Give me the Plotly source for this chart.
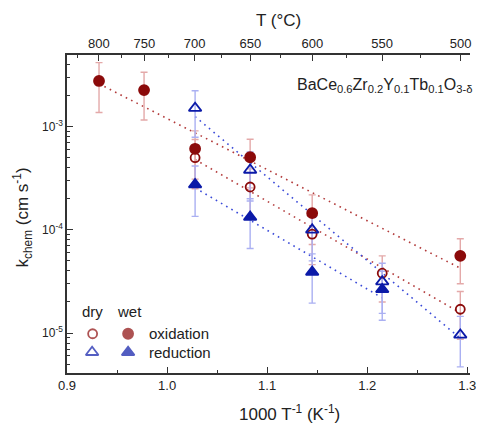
import plotly.graph_objects as go

# ---------------- data ----------------
wet_ox_x = [0.932, 0.977, 1.028, 1.083, 1.145, 1.293]
wet_ox_y = [2.77e-3, 2.26e-3, 6.1e-4, 5.05e-4, 1.45e-4, 5.6e-5]
wet_ox_e = [1.4e-3, 1.1e-3, 3.0e-4, 2.5e-4, 7.3e-5, 2.6e-5]

dry_ox_x = [1.028, 1.083, 1.145, 1.215, 1.293]
dry_ox_y = [5.0e-4, 2.6e-4, 9.1e-5, 3.8e-5, 1.7e-5]
dry_ox_e = [2.5e-4, 1.3e-4, 4.5e-5, 1.8e-5, 8.3e-6]

dry_red_x = [1.028, 1.083, 1.145, 1.215, 1.293]
dry_red_y = [1.51e-3, 3.8e-4, 1.0e-4, 3.15e-5, 9.6e-6]
dry_red_e = [7.2e-4, 1.9e-4, 5.0e-5, 1.6e-5, 4.9e-6]

wet_red_x = [1.028, 1.083, 1.145, 1.215]
wet_red_y = [2.75e-4, 1.33e-4, 3.9e-5, 2.65e-5]
wet_red_e = [1.4e-4, 6.7e-5, 1.95e-5, 1.32e-5]

# Arrhenius fit lines (end points)
fit_wet_ox_x = [0.932, 1.293]
fit_wet_ox_y = [2.6e-3, 4.25e-5]
fit_dry_ox_x = [1.028, 1.293]
fit_dry_ox_y = [4.8e-4, 1.57e-5]
fit_dry_red_x = [1.028, 1.293]
fit_dry_red_y = [1.25e-3, 8.9e-6]
fit_wet_red_x = [1.028, 1.215]
fit_wet_red_y = [2.55e-4, 2.19e-5]

bottom_ticks = [0.9, 1.0, 1.1, 1.2, 1.3]
bottom_minor = [0.95, 1.05, 1.15, 1.25]
top_T_major = [800, 750, 700, 650, 600, 550, 500]
top_T_minor = [825, 775, 725, 675, 625, 575, 525]
y_major = [1e-5, 1e-4, 1e-3]
y_major_text = ["10<sup>-5</sup>", "10<sup>-4</sup>", "10<sup>-3</sup>"]

# ---------------- styles ----------------
RED = "#8b0a0a"
BLUE = "#0b1aa8"
RED_ERR = "#e4a9a9"
BLUE_ERR = "#aab0f2"
RED_LINE = "#b23a3a"
BLUE_LINE = "#3a4ad8"
FONT = "Liberation Sans, Arial, sans-serif"
AX = "#333333"

fig = go.Figure()

# fit lines
for fx, fy, c in [(fit_wet_ox_x, fit_wet_ox_y, RED_LINE),
                  (fit_dry_ox_x, fit_dry_ox_y, RED_LINE),
                  (fit_dry_red_x, fit_dry_red_y, BLUE_LINE),
                  (fit_wet_red_x, fit_wet_red_y, BLUE_LINE)]:
    fig.add_trace(go.Scatter(x=fx, y=fy, mode="lines",
                             line=dict(color=c, width=1.6, dash="1.6px,4.4px"),
                             showlegend=False, hoverinfo="skip"))

series = [
    (wet_ox_x, wet_ox_y, wet_ox_e, "circle", 10, RED, RED_ERR),
    (dry_ox_x, dry_ox_y, dry_ox_e, "circle-open", 9, RED, RED_ERR),
    (dry_red_x, dry_red_y, dry_red_e, "triangle-up-open", 11, BLUE, BLUE_ERR),
    (wet_red_x, wet_red_y, wet_red_e, "triangle-up", 11, BLUE, BLUE_ERR),
]

# error bars (drawn below all markers)
for sx, sy, se, sym, sz, c, ec in series:
    fig.add_trace(go.Scatter(x=sx, y=sy, mode="markers",
                             marker=dict(size=2, opacity=0),
                             error_y=dict(type="data", array=se, visible=True,
                                          color=ec, thickness=1.4, width=3.5),
                             showlegend=False, hoverinfo="skip"))

# markers
for sx, sy, se, sym, sz, c, ec in series:
    fig.add_trace(go.Scatter(x=sx, y=sy, mode="markers",
                             marker=dict(symbol=sym, size=sz, color=c,
                                         line=dict(color=c, width=1.8)),
                             showlegend=False))

# invisible trace to activate the top axis
fig.add_trace(go.Scatter(x=[1.0], y=[1e-4], xaxis="x2", mode="markers",
                         marker=dict(opacity=0), showlegend=False, hoverinfo="skip"))

# custom legend symbols on a hidden overlay axis
leg_x = [0.0636, 0.1516, 0.0623, 0.1516]
leg_y = [0.1235, 0.1235, 0.0653, 0.0653]
leg_sym = ["circle-open", "circle", "triangle-up-open", "triangle-up"]
leg_size = [9, 10, 11, 11]
leg_col = [RED, RED, BLUE, BLUE]
fig.add_trace(go.Scatter(x=leg_x, y=leg_y, xaxis="x3", yaxis="y3", mode="markers",
                         marker=dict(symbol=leg_sym, size=leg_size, color=leg_col,
                                     line=dict(color=leg_col, width=1.8)),
                         showlegend=False, hoverinfo="skip"))

x_range = [0.9, 1.3027]
y_range = [-5.387, -2.306]

y_minor = []
for d in [1e-6, 1e-5, 1e-4, 1e-3]:
    for m in range(2, 10):
        y_minor.append(m * d)

# the page body adds an 8 px offset, so the figure is 8 px smaller
fig.update_layout(
    width=476, height=418,
    margin=dict(l=59, r=8, t=47, b=53),
    paper_bgcolor="white", plot_bgcolor="white",
    font=dict(family=FONT, size=13, color="#222222"),
    showlegend=False,
    xaxis=dict(range=x_range, showline=True, linecolor=AX, linewidth=1.5,
               ticks="inside", ticklen=6, tickwidth=1.3, tickcolor=AX,
               tickvals=bottom_ticks, tickformat=".1f",
               minor=dict(tickvals=bottom_minor, ticks="inside", ticklen=3,
                          tickwidth=1.2, tickcolor=AX),
               showgrid=False, zeroline=False, mirror=False,
               tickfont=dict(size=13)),
    xaxis2=dict(range=x_range, overlaying="x", side="top", anchor="y",
                showline=True, linecolor=AX, linewidth=1.5,
                ticks="inside", ticklen=6, tickwidth=1.3, tickcolor=AX,
                tickvals=[1000.0 / (t + 273.15) for t in top_T_major],
                ticktext=[str(t) for t in top_T_major],
                minor=dict(tickvals=[1000.0 / (t + 273.15) for t in top_T_minor],
                           ticks="inside", ticklen=3, tickwidth=1.2, tickcolor=AX),
                showgrid=False, zeroline=False, tickfont=dict(size=13)),
    yaxis=dict(type="log", range=y_range, showline=True, linecolor=AX, linewidth=1.5,
               ticks="inside", ticklen=6, tickwidth=1.3, tickcolor=AX,
               tickvals=y_major, ticktext=y_major_text,
               minor=dict(tickvals=y_minor, ticks="inside", ticklen=3,
                          tickwidth=1.2, tickcolor=AX),
               showgrid=False, zeroline=False, mirror=False,
               tickfont=dict(size=12)),
    xaxis3=dict(range=[0, 1], overlaying="x", visible=False, anchor="y3"),
    yaxis3=dict(range=[0, 1], overlaying="y", visible=False, anchor="x3"),
)

# positions given in screenshot pixels relative to the plot frame (67..476, 55..373.3)
ann = [
    dict(text="T (°C)", x=0.526, y=20, size=17),
    dict(text="1000 T<sup>-1</sup> (K<sup>-1</sup>)", x=0.551, y=413, size=17),
    dict(text="k<sub>chem</sub> (cm s<sup>-1</sup>)", x=22, y=218, size=17, angle=-90),
]
annotations = []
for a in ann:
    px = a["x"]
    if px > 1:
        px = (px - 67) / 409.0
    py = (373.3 - a["y"]) / 318.3
    annotations.append(dict(text=a["text"], x=px, y=py, xref="paper", yref="paper",
                            showarrow=False, xanchor="center", yanchor="middle",
                            font=dict(family=FONT, size=a["size"], color="#222222"),
                            textangle=a.get("angle", 0)))

annotations += [
    dict(text="BaCe<sub>0.6</sub>Zr<sub>0.2</sub>Y<sub>0.1</sub>Tb<sub>0.1</sub>O<sub>3-δ</sub>",
         x=(298 - 67) / 409.0, y=(373.3 - 86) / 318.3, xref="paper", yref="paper",
         xanchor="left", yanchor="middle", showarrow=False,
         font=dict(family=FONT, size=16, color="#222222")),
    dict(text="dry", x=0.0628, y=0.1935, xref="paper", yref="paper", showarrow=False,
         xanchor="center", yanchor="middle", font=dict(family=FONT, size=15, color="#222222")),
    dict(text="wet", x=0.154, y=0.1935, xref="paper", yref="paper", showarrow=False,
         xanchor="center", yanchor="middle", font=dict(family=FONT, size=15, color="#222222")),
    dict(text="oxidation", x=0.199, y=0.1235, xref="paper", yref="paper", showarrow=False,
         xanchor="left", yanchor="middle", font=dict(family=FONT, size=15, color="#222222")),
    dict(text="reduction", x=0.199, y=0.0653, xref="paper", yref="paper", showarrow=False,
         xanchor="left", yanchor="middle", font=dict(family=FONT, size=15, color="#222222")),
]
fig.update_layout(annotations=annotations)

fig.write_html("out.html")
